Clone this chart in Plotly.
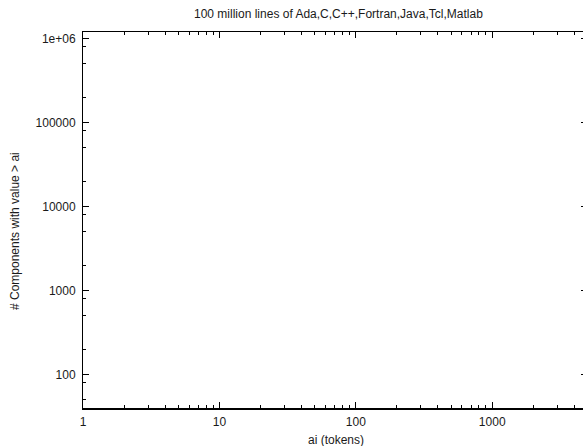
import math
import plotly.graph_objects as go

# Component-size distribution (empty series: nothing plotted on this figure)
ai_tokens = []
components_gt = []

x_tick_vals = [1, 10, 100, 1000]
x_tick_text = ["1", "10", "100", "1000"]
y_tick_vals = [100, 1000, 10000, 100000, 1000000]
y_tick_text = ["100", "1000", "10000", "100000", "1e+06"]

title_text = "100 million lines of Ada,C,C++,Fortran,Java,Tcl,Matlab"
x_title = "ai (tokens)"
y_title = "# Components with value > ai"

W, H = 583, 446
L, R, T, B = 83, 0, 32, 38
decade_px = 136.4
x_hi = (W - L - R) / decade_px          # log10 of the right edge value
y_range = [math.log10(40), math.log10(1.2e6)]

x_minor = [m * 10 ** e for e in range(0, 4) for m in range(2, 10)]
y_minor = [m * 10 ** e for e in range(1, 6) for m in (2, 5, 8)]

FONT = "Liberation Sans, Arial, Helvetica, sans-serif"
INK = "#1a1a1a"

fig = go.Figure()
fig.add_trace(go.Scatter(x=ai_tokens, y=components_gt, mode="lines",
                         line=dict(color="#9400d3"), showlegend=False))
fig.add_trace(go.Scatter(x=[], y=[], xaxis="x2", yaxis="y2",
                         showlegend=False, hoverinfo="skip"))

common_x = dict(type="log", range=[0, x_hi], showgrid=False, zeroline=False,
                tickmode="array", tickvals=x_tick_vals, ticks="inside",
                tickcolor="black", ticklen=6,
                minor=dict(tickmode="array", tickvals=x_minor, ticks="inside",
                           ticklen=3, tickcolor="black", showgrid=False))
common_y = dict(type="log", range=y_range, showgrid=False, zeroline=False,
                tickmode="array", tickvals=y_tick_vals, ticks="inside",
                tickcolor="black")

fig.update_layout(
    width=W, height=H,
    margin=dict(l=L, r=R, t=T, b=B, pad=0),
    paper_bgcolor="white", plot_bgcolor="white",
    font=dict(family=FONT, size=12, color=INK),
    showlegend=False,
    xaxis=dict(**common_x, ticktext=x_tick_text, showline=True,
               linecolor="black", linewidth=2, mirror=False,
               tickfont=dict(size=12, color=INK), ticklabelstandoff=2),
    xaxis2=dict(**common_x, overlaying="x", side="top", anchor="y2",
                showticklabels=False, showline=True, linecolor="black",
                linewidth=1),
    yaxis=dict(**common_y, ticktext=y_tick_text, ticklen=6, showline=True,
               linecolor="black", linewidth=1, mirror=False,
               minor=dict(tickmode="array", tickvals=y_minor, ticks="inside",
                          ticklen=3, tickcolor="black", showgrid=False),
               tickfont=dict(size=12, color=INK), ticklabelstandoff=4),
    yaxis2=dict(**common_y, overlaying="y", side="right", anchor="x2",
                ticklen=2, showticklabels=False, showline=False),
    annotations=[
        dict(text=title_text, xref="paper", yref="paper",
             x=(338 - L) / (W - L - R), y=1 + (T - 14) / (H - T - B),
             xanchor="center", yanchor="middle", showarrow=False,
             font=dict(size=12, color=INK)),
        dict(text=x_title, xref="paper", yref="paper",
             x=(336 - L) / (W - L - R), y=-(440 - (H - B)) / (H - T - B),
             xanchor="center", yanchor="middle", showarrow=False,
             font=dict(size=12, color=INK)),
        dict(text=y_title, xref="paper", yref="paper", textangle=-90,
             x=-(L - 15) / (W - L - R), y=((H - B) - 231) / (H - T - B),
             xanchor="center", yanchor="middle", showarrow=False,
             font=dict(size=12, color=INK)),
    ],
)

fig.write_html("out.html")
